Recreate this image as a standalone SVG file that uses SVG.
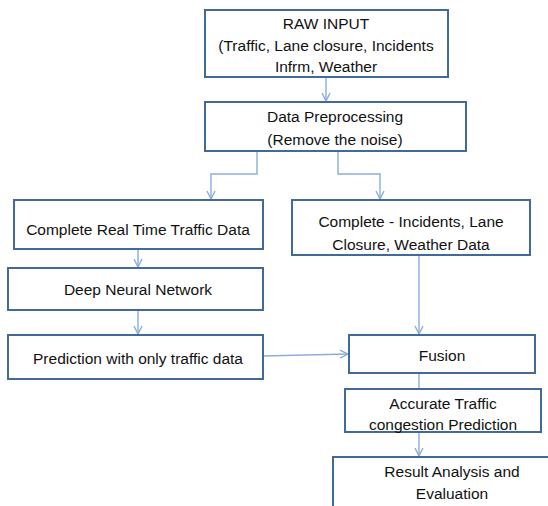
<svg xmlns="http://www.w3.org/2000/svg" width="548" height="506" viewBox="0 0 548 506">
<style>
.box{fill:#fff;stroke:#41699A;stroke-width:2}
.t{font-family:"Liberation Sans",Arial,sans-serif;font-size:15.5px;fill:#111;text-anchor:middle}
.c{fill:none;stroke:#8AAEDB;stroke-width:1.4}
</style>
<defs>
<marker id="a" viewBox="0 0 10 10" refX="9" refY="5" markerWidth="10" markerHeight="10" markerUnits="userSpaceOnUse" orient="auto">
<path d="M1,1 L9,5 L1,9" fill="none" stroke="#8AAEDB" stroke-width="1.4"/>
</marker>
</defs>
<rect width="548" height="506" fill="#fff"/>
<g id="connectors">
<path class="c" d="M326,77 V101" marker-end="url(#a)"/>
<path class="c" d="M257,151 V174 H211 V199" marker-end="url(#a)"/>
<path class="c" d="M338,151 V174 H380 V199" marker-end="url(#a)"/>
<path class="c" d="M138,249 V267" marker-end="url(#a)"/>
<path class="c" d="M138,310 V334" marker-end="url(#a)"/>
<path class="c" d="M419,255 V334" marker-end="url(#a)"/>
<path class="c" d="M263,356 L348,354" marker-end="url(#a)"/>
<path class="c" d="M419,373 V389"/>
<path class="c" d="M419,432 V456" marker-end="url(#a)"/>
</g>
<g id="raw">
<rect class="box" x="205" y="10" width="243" height="67"/>
<text class="t" x="326" y="29">RAW INPUT</text>
<text class="t" x="326" y="51">(Traffic, Lane closure, Incidents</text>
<text class="t" x="326" y="72">Infrm, Weather</text>
</g>
<g id="preprocess">
<rect class="box" x="205" y="102" width="261" height="49"/>
<text class="t" x="335" y="122">Data Preprocessing</text>
<text class="t" x="335" y="145">(Remove the noise)</text>
</g>
<g id="traffic">
<rect class="box" x="14" y="200" width="249" height="49"/>
<text class="t" x="138" y="235">Complete Real Time Traffic Data</text>
</g>
<g id="incidents">
<rect class="box" x="292" y="200" width="238" height="55"/>
<text class="t" x="411" y="227">Complete - Incidents, Lane</text>
<text class="t" x="411" y="250">Closure, Weather Data</text>
</g>
<g id="dnn">
<rect class="box" x="8" y="268" width="255" height="42"/>
<text class="t" x="138" y="295">Deep Neural Network</text>
</g>
<g id="prediction">
<rect class="box" x="8" y="335" width="255" height="44"/>
<text class="t" x="138" y="364">Prediction with only traffic data</text>
</g>
<g id="fusion">
<rect class="box" x="349" y="335" width="186" height="38"/>
<text class="t" x="442" y="361">Fusion</text>
</g>
<g id="accurate">
<rect class="box" x="345" y="389" width="196" height="43"/>
<text class="t" x="443" y="409">Accurate Traffic</text>
<text class="t" x="443" y="430">congestion Prediction</text>
</g>
<g id="result">
<rect class="box" x="333" y="457" width="240" height="60"/>
<text class="t" x="452" y="477">Result Analysis and</text>
<text class="t" x="452" y="499">Evaluation</text>
</g>
</svg>
